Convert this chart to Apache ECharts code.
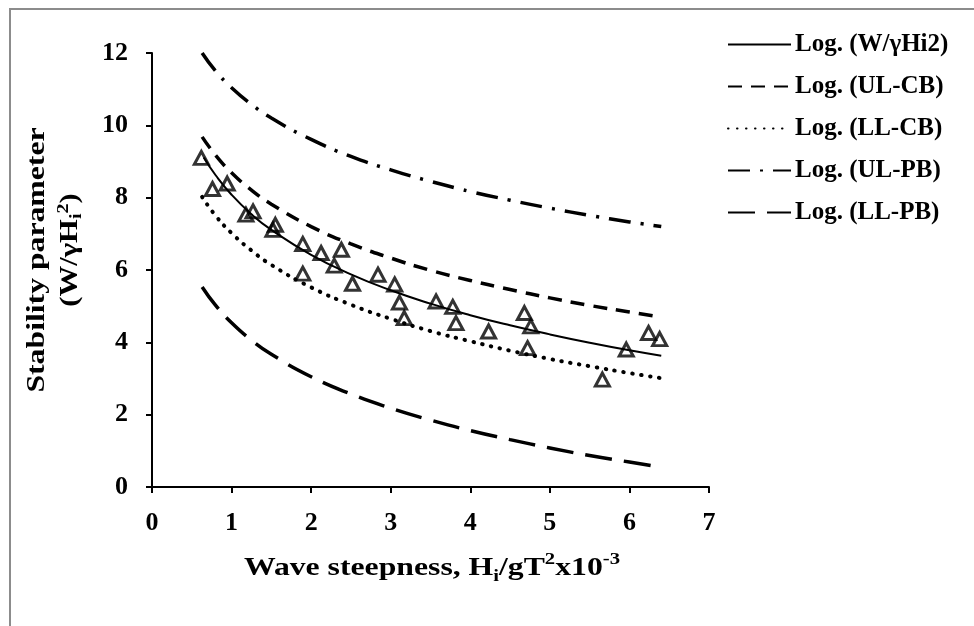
<!DOCTYPE html>
<html>
<head>
<meta charset="utf-8">
<script src="https://cdn.jsdelivr.net/npm/echarts@6/dist/echarts.min.js"></script>
<style>
html,body{margin:0;padding:0;background:#fff;}
#chart{width:974px;height:626px;}
</style>
</head>
<body>
<div id="chart"></div>
<script>
// Observed data (wave steepness x10^-3, stability parameter)
var obsX = [0.62, 0.76, 0.945, 1.18, 1.27, 1.52, 1.55, 1.895, 1.895, 2.125, 2.29, 2.38, 2.52, 2.84, 3.05, 3.11, 3.17, 3.57, 3.78, 3.82, 4.23, 4.68, 4.72, 4.76, 5.66, 5.96, 6.24, 6.38];
var obsY = [9.10, 8.24, 8.39, 7.53, 7.62, 7.11, 7.25, 6.72, 5.90, 6.47, 6.12, 6.56, 5.62, 5.87, 5.60, 5.10, 4.67, 5.13, 4.98, 4.53, 4.30, 4.81, 3.84, 4.44, 2.97, 3.80, 4.26, 4.09];

// Trend-line readings
var fitX = [0.63, 0.8, 1, 1.25, 1.5, 2, 2.5, 3, 3.5, 4, 4.5, 5, 5.5, 6, 6.4];
var fitXMain = [0.65, 0.8, 1, 1.25, 1.5, 2, 2.5, 3, 3.5, 4, 4.5, 5, 5.5, 6, 6.4];
var logMain = [9.11, 8.62, 8.08, 7.54, 7.11, 6.42, 5.88, 5.44, 5.07, 4.75, 4.47, 4.22, 3.99, 3.78, 3.63];
var logULCB = [9.68, 9.17, 8.69, 8.21, 7.82, 7.20, 6.72, 6.33, 5.99, 5.71, 5.46, 5.23, 5.02, 4.84, 4.70];
var logLLCB = [8.02, 7.50, 7.02, 6.54, 6.14, 5.52, 5.04, 4.65, 4.31, 4.03, 3.77, 3.54, 3.34, 3.15, 3.01];
var logULPB = [12.0, 11.50, 11.04, 10.58, 10.20, 9.61, 9.14, 8.77, 8.45, 8.17, 7.93, 7.71, 7.51, 7.33, 7.20];
var logLLPB = [5.53, 5.02, 4.54, 4.06, 3.67, 3.05, 2.57, 2.18, 1.85, 1.56, 1.31, 1.08, 0.87, 0.69, 0.55];

var seriesNames = ['Log. (W/\u03b3Hi2)', 'Log. (UL-CB)', 'Log. (LL-CB)', 'Log. (UL-PB)', 'Log. (LL-PB)'];
var xTicks = [0, 1, 2, 3, 4, 5, 6, 7];
var yTicks = [0, 2, 4, 6, 8, 10, 12];

function zip(xs, ys) { return xs.map(function (x, i) { return [x, ys[i]]; }); }

var FONT = '"Liberation Serif", "Times New Roman", serif';

function lineSeries(name, xs, ys, width, dash, cap) {
  return {
    name: name, type: 'line', data: zip(xs, ys), smooth: true, symbol: 'none',
    color: '#000',
    itemStyle: { color: '#000' },
    lineStyle: { color: '#000', width: width, type: dash, cap: cap || 'butt' },
    z: 2, animation: false
  };
}

var chart = echarts.init(document.getElementById('chart'));
chart.setOption({
  animation: false,
  backgroundColor: '#fff',
  grid: { left: 152, top: 53, width: 557, height: 434, containLabel: false },
  xAxis: {
    type: 'value', min: xTicks[0], max: xTicks[xTicks.length - 1], interval: 1,
    axisLine: { show: true, onZero: false, lineStyle: { color: '#000', width: 2 } },
    axisTick: { show: true, inside: false, length: 6, lineStyle: { color: '#000', width: 2 } },
    splitLine: { show: false },
    axisLabel: { color: '#000', fontFamily: FONT, fontWeight: 'bold', fontSize: 26, margin: 23 }
  },
  yAxis: {
    type: 'value', min: yTicks[0], max: yTicks[yTicks.length - 1], interval: 2,
    axisLine: { show: true, lineStyle: { color: '#000', width: 2 } },
    axisTick: { show: true, inside: false, length: 6, lineStyle: { color: '#000', width: 2 } },
    splitLine: { show: false },
    axisLabel: { color: '#000', fontFamily: FONT, fontWeight: 'bold', fontSize: 26, margin: 24 }
  },
  legend: {
    show: true, orient: 'vertical', left: 722, top: 27,
    itemWidth: 63, itemHeight: 14, itemGap: 17,
    data: seriesNames,
    itemStyle: { opacity: 0 },
    textStyle: { color: '#000', fontFamily: FONT, fontWeight: 'bold', fontSize: 25, padding: [0, 0, 0, -1] }
  },
  graphic: [
    { type: 'rect', shape: { x: 10, y: 9, width: 1200, height: 1200 }, style: { fill: 'none', stroke: '#8c8c8c', lineWidth: 2 }, silent: true, z: 0 },
    {
      type: 'text', x: 37, y: 260, rotation: Math.PI / 2, scaleX: 1.22,
      style: { text: 'Stability parameter', fill: '#000', font: 'bold 26px ' + FONT, align: 'center', verticalAlign: 'middle' }
    },
    {
      type: 'text', x: 70, y: 250, rotation: Math.PI / 2, scaleX: 1.18,
      style: {
        text: '{b|(W/\u03b3H}{bs|i}{bp|2}{b|)}', align: 'center', verticalAlign: 'middle',
        rich: {
          b: { font: 'bold 26px ' + FONT, fill: '#000', lineHeight: 30 },
          bs: { font: 'bold 17px ' + FONT, fill: '#000', verticalAlign: 'bottom', lineHeight: 30 },
          bp: { font: 'bold 17px ' + FONT, fill: '#000', verticalAlign: 'top', lineHeight: 30 }
        }
      }
    },
    {
      type: 'text', x: 432, y: 568, scaleX: 1.22,
      style: {
        text: '{b|Wave steepness, H}{bs|i}{b|/gT}{bp|2}{b|x10}{bp|-3}', align: 'center', verticalAlign: 'middle',
        rich: {
          b: { font: 'bold 26px ' + FONT, fill: '#000', lineHeight: 34 },
          bs: { font: 'bold 17px ' + FONT, fill: '#000', verticalAlign: 'bottom', lineHeight: 34 },
          bp: { font: 'bold 17px ' + FONT, fill: '#000', verticalAlign: 'top', lineHeight: 34 }
        }
      }
    }
  ],
  series: [
    lineSeries(seriesNames[0], fitXMain, logMain, 2, 'solid'),
    lineSeries(seriesNames[1], fitX, logULCB, 3.5, [14, 9]),
    lineSeries(seriesNames[2], fitX, logLLCB, 4, [0.5, 8.5], 'round'),
    lineSeries(seriesNames[3], fitX, logULPB, 3.5, [22, 10, 3, 10]),
    lineSeries(seriesNames[4], fitX, logLLPB, 3.5, [27, 12]),
    {
      name: 'obs', type: 'scatter', data: zip(obsX, obsY), symbol: 'triangle', symbolSize: [14, 13],
      itemStyle: { color: 'rgba(255,255,255,0)', borderColor: '#000', borderWidth: 3 },
      z: 3, animation: false
    }
  ]
});
</script>
</body>
</html>
